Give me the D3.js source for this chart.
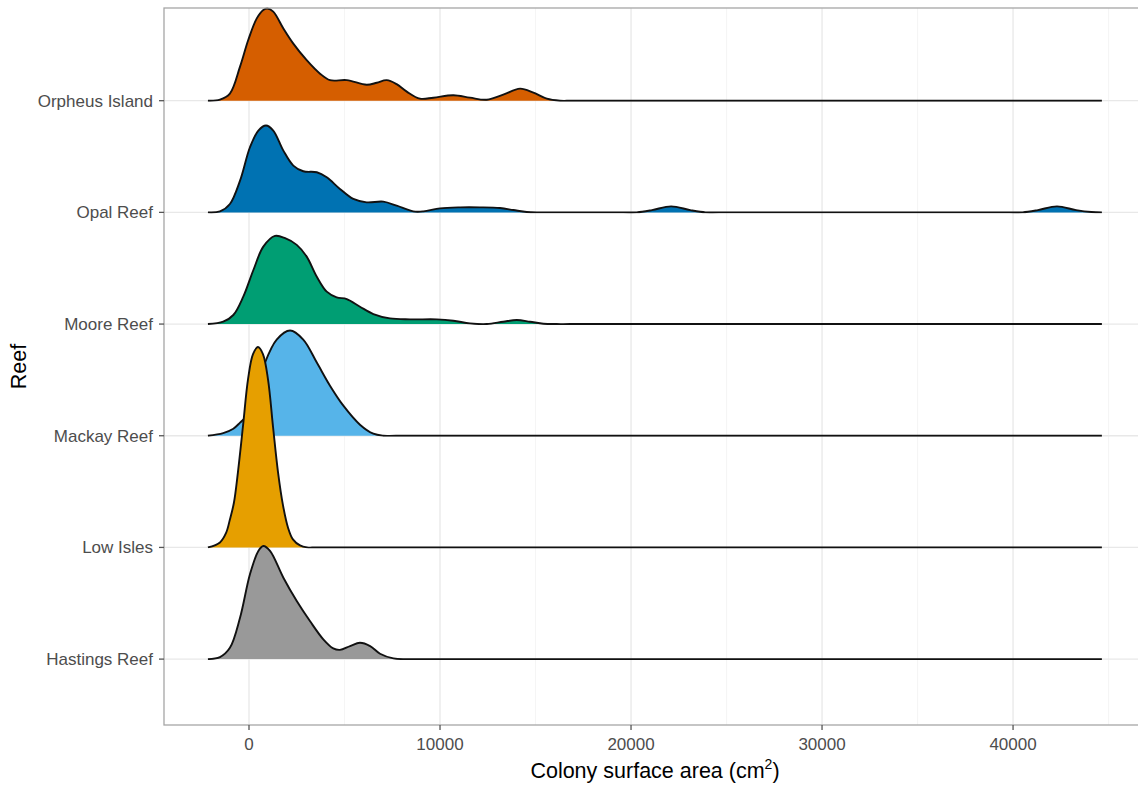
<!DOCTYPE html>
<html>
<head>
<meta charset="utf-8">
<title>Colony surface area by reef</title>
<script src="https://cdn.jsdelivr.net/npm/d3@7"></script>
<style>
  body { margin: 0; background: #fff; }
  svg { display: block; font-family: 'Liberation Sans', Arial, Helvetica, sans-serif; }
</style>
</head>
<body>
<div id="chart"></div>
<script>
// reefs from bottom row to top row
const reefs = ['Hastings Reef', 'Low Isles', 'Mackay Reef', 'Moore Reef', 'Opal Reef', 'Orpheus Island']
const reefColors = ['#999999', '#E69F00', '#56B4E9', '#009E73', '#0072B2', '#D55E00']

// densities: [colony surface area (cm2), height in row units]
const hastings = [[-2150, 0], [-1520, 0.018], [-1000, 0.101], [-470, 0.37], [50, 0.76], [490, 0.969], [750, 1.013],
  [1100, 0.969], [1800, 0.729], [2500, 0.52], [3190, 0.341], [3890, 0.177], [4410, 0.096], [4760, 0.083],
  [5290, 0.117], [5810, 0.146], [6340, 0.117], [6860, 0.048], [7560, 0.006], [8260, 0], [9000, 0], [44650, 0]]

const lowIsles = [[-2150, 0], [-1520, 0.045], [-1200, 0.13], [-1000, 0.25], [-790, 0.4], [-580, 0.673], [-310, 1.094],
  [-50, 1.507], [210, 1.731], [470, 1.794], [730, 1.731], [1000, 1.498], [1260, 1.076], [1520, 0.673],
  [1780, 0.377], [2040, 0.179], [2300, 0.072], [2670, 0.018], [3040, 0], [3600, 0], [44650, 0]]

const mackay = [[-2150, 0], [-1350, 0.024], [-820, 0.063], [-470, 0.117], [-120, 0.179], [310, 0.341], [840, 0.655],
  [1450, 0.861], [2150, 0.942], [2840, 0.861], [3550, 0.655], [4240, 0.448], [4940, 0.269], [5810, 0.099],
  [6510, 0.018], [7030, 0], [7700, 0], [44650, 0]]

const moore = [[-2150, 0], [-1350, 0.021], [-820, 0.081], [-300, 0.245], [230, 0.484], [750, 0.693], [1360, 0.789],
  [1890, 0.769], [2500, 0.709], [3020, 0.604], [3550, 0.424], [4070, 0.29], [4590, 0.239], [5120, 0.224],
  [5810, 0.155], [6510, 0.09], [7380, 0.051], [8430, 0.042], [9830, 0.042], [10700, 0.03], [11570, 0.006],
  [12450, 0], [13310, 0.021], [14020, 0.036], [14710, 0.021], [15410, 0.003], [16110, 0], [16800, 0], [44650, 0]]

const opal = [[-2150, 0], [-1520, 0.009], [-1000, 0.075], [-470, 0.284], [50, 0.583], [490, 0.733], [890, 0.778],
  [1270, 0.733], [1800, 0.553], [2320, 0.419], [2840, 0.368], [3550, 0.359], [4070, 0.314], [4760, 0.21],
  [5460, 0.12], [6160, 0.09], [7030, 0.096], [7730, 0.06], [8600, 0.009], [9130, 0.009], [10000, 0.036],
  [11050, 0.045], [12090, 0.045], [13140, 0.039], [13840, 0.021], [14540, 0.003], [15240, 0], [15900, 0],
  [19600, 0], [20300, 0], [21100, 0.02], [22100, 0.054], [23100, 0.02], [23900, 0], [24600, 0],
  [39800, 0], [40500, 0], [41300, 0.02], [42300, 0.054], [43300, 0.02], [44100, 0.003], [44650, 0]]

const orpheus = [[-2150, 0], [-1520, 0.009], [-1000, 0.063], [-470, 0.305], [-40, 0.543], [400, 0.735], [750, 0.812],
  [960, 0.825], [1270, 0.798], [1800, 0.646], [2320, 0.511], [3020, 0.363], [3720, 0.242], [4240, 0.184],
  [5120, 0.184], [6160, 0.143], [6690, 0.161], [7210, 0.184], [7730, 0.148], [8260, 0.081], [8950, 0.018],
  [9650, 0.027], [10700, 0.049], [11570, 0.027], [12450, 0.009], [13310, 0.054], [14190, 0.108],
  [14890, 0.072], [15590, 0.018], [16280, 0], [17000, 0], [44650, 0]]

const densities = [hastings, lowIsles, mackay, moore, opal, orpheus]

const xTicks = [0, 10000, 20000, 30000, 40000]
const xMinorTicks = [5000, 15000, 25000, 35000, 45000]

const width = 1138
const height = 785
const panel = { left: 164, right: 1146, top: 8, bottom: 725 }

const svg = d3.select('#chart').append('svg')
  .attr('width', width)
  .attr('height', height)

svg.append('rect')
  .attr('width', width)
  .attr('height', height)
  .attr('fill', '#fff')

const x = d3.scaleLinear()
  .domain([-4450, 46960])
  .range([panel.left, panel.right])

// row i (1 = bottom) sits at y(i); densities stack upward in row units
const y = d3.scaleLinear()
  .domain([0.41, 6.83])
  .range([panel.bottom, panel.top])

const plot = svg.append('g')

// grid
plot.append('g')
  .selectAll('line')
  .data(xMinorTicks)
  .join('line')
  .attr('x1', d => x(d)).attr('x2', d => x(d))
  .attr('y1', panel.top).attr('y2', panel.bottom)
  .attr('stroke', '#f2f2f2')
  .attr('stroke-width', 0.8)

plot.append('g')
  .selectAll('line')
  .data(xTicks)
  .join('line')
  .attr('x1', d => x(d)).attr('x2', d => x(d))
  .attr('y1', panel.top).attr('y2', panel.bottom)
  .attr('stroke', '#e8e8e8')
  .attr('stroke-width', 1.3)

plot.append('g')
  .selectAll('line')
  .data(reefs)
  .join('line')
  .attr('x1', panel.left).attr('x2', panel.right)
  .attr('y1', (d, i) => y(i + 1)).attr('y2', (d, i) => y(i + 1))
  .attr('stroke', '#e8e8e8')
  .attr('stroke-width', 1.3)

// ridges, top row first so lower rows overlap the ones above
const curve = d3.curveCatmullRom.alpha(0.5)
const defs = svg.append('defs')
const ridges = plot.append('g')
for (let i = reefs.length - 1; i >= 0; i--) {
  const base = y(i + 1)

  // clip at the baseline so the smoothed outline never sags below it
  defs.append('clipPath')
    .attr('id', `clip${i}`)
    .append('rect')
    .attr('x', panel.left)
    .attr('y', panel.top - 2)
    .attr('width', panel.right - panel.left)
    .attr('height', base + 1 - panel.top + 2)

  const area = d3.area()
    .x(d => x(d[0]))
    .y0(base)
    .y1(d => y(i + 1 + d[1]))
    .curve(curve)
  const line = d3.line()
    .x(d => x(d[0]))
    .y(d => y(i + 1 + d[1]))
    .curve(curve)

  const g = ridges.append('g')
    .attr('class', 'ridge')
    .attr('clip-path', `url(#clip${i})`)
  g.append('path')
    .attr('d', area(densities[i]))
    .attr('fill', reefColors[i])
  g.append('path')
    .attr('d', line(densities[i]))
    .attr('fill', 'none')
    .attr('stroke', '#111')
    .attr('stroke-width', 1.9)
    .attr('stroke-linejoin', 'round')
}

// panel border
svg.append('rect')
  .attr('x', panel.left)
  .attr('y', panel.top)
  .attr('width', panel.right - panel.left)
  .attr('height', panel.bottom - panel.top)
  .attr('fill', 'none')
  .attr('stroke', '#a6a6a6')
  .attr('stroke-width', 1.3)

// x axis
const xAxis = svg.append('g')
xAxis.selectAll('line')
  .data(xTicks)
  .join('line')
  .attr('x1', d => x(d)).attr('x2', d => x(d))
  .attr('y1', panel.bottom).attr('y2', panel.bottom + 5)
  .attr('stroke', '#555')
  .attr('stroke-width', 1.3)
xAxis.selectAll('text')
  .data(xTicks)
  .join('text')
  .attr('x', d => x(d))
  .attr('y', panel.bottom + 25)
  .attr('text-anchor', 'middle')
  .attr('fill', '#4d4d4d')
  .style('font-size', '17px')
  .text(d => d)

// y axis
const yAxis = svg.append('g')
yAxis.selectAll('line')
  .data(reefs)
  .join('line')
  .attr('x1', panel.left - 5).attr('x2', panel.left)
  .attr('y1', (d, i) => y(i + 1)).attr('y2', (d, i) => y(i + 1))
  .attr('stroke', '#555')
  .attr('stroke-width', 1.3)
yAxis.selectAll('text')
  .data(reefs)
  .join('text')
  .attr('x', panel.left - 11)
  .attr('y', (d, i) => y(i + 1))
  .attr('dy', '0.35em')
  .attr('text-anchor', 'end')
  .attr('fill', '#4d4d4d')
  .style('font-size', '17px')
  .text(d => d)

// titles
const xTitle = svg.append('text')
  .attr('x', (panel.left + panel.right) / 2)
  .attr('y', 778)
  .attr('text-anchor', 'middle')
  .attr('fill', '#000')
  .style('font-size', '21.5px')
xTitle.append('tspan').text('Colony surface area (cm')
xTitle.append('tspan').attr('dy', -9).style('font-size', '14px').text('2')
xTitle.append('tspan').attr('dy', 9).text(')')

svg.append('text')
  .attr('transform', `translate(26,${(panel.top + panel.bottom) / 2}) rotate(-90)`)
  .attr('text-anchor', 'middle')
  .attr('fill', '#000')
  .style('font-size', '21.5px')
  .text('Reef')
</script>
</body>
</html>
